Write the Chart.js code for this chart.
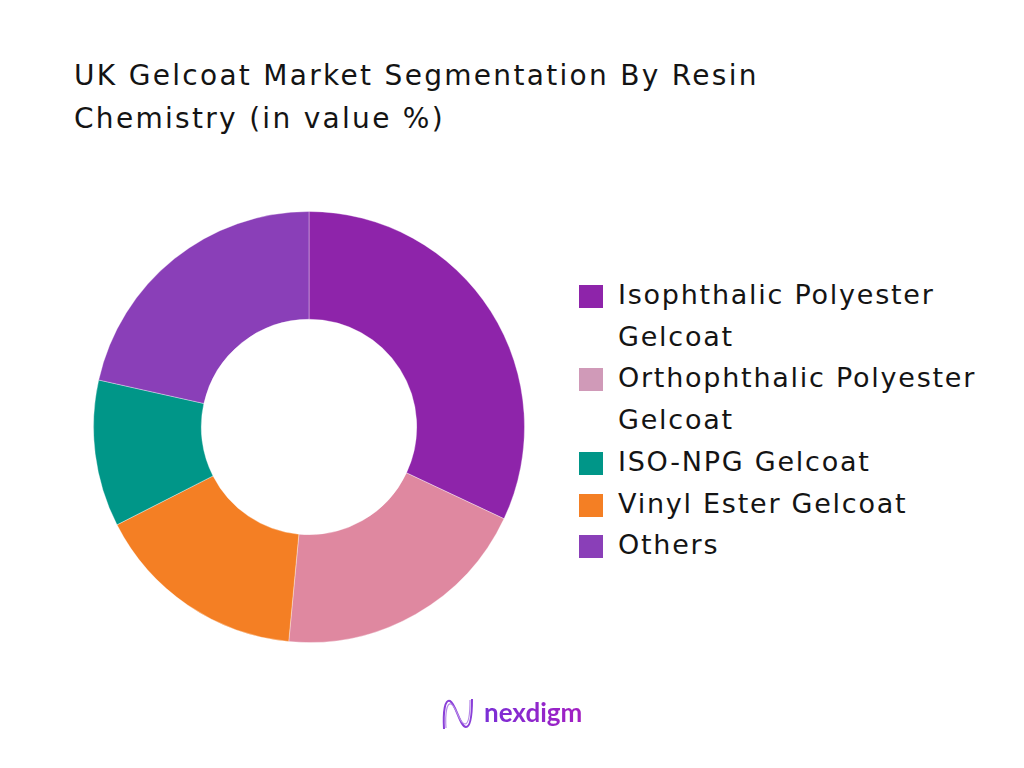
<!DOCTYPE html>
<html>
<head>
<meta charset="utf-8">
<script src="https://cdn.jsdelivr.net/npm/chart.js@4.4.0/dist/chart.umd.min.js"></script>
<style>
	html, body {
		margin: 0;
		padding: 0;
		background: #ffffff;
	}
	body {
		width: 1024px;
		height: 768px;
		position: relative;
		overflow: hidden;
		font-family: 'DejaVu Sans', sans-serif;
		color: #141414;
	}
	#title {
		position: absolute;
		left: 74px;
		top: 54px;
		font-size: 28px;
		line-height: 43px;
		letter-spacing: 2.3px;
		font-weight: 400;
	}
	#chart-wrap {
		position: absolute;
		left: 93px;
		top: 211px;
		width: 432px;
		height: 432px;
	}
	#legend {
		position: absolute;
		left: 579px;
		top: 274px;
		margin: 0;
		padding: 0;
		list-style: none;
		font-size: 27px;
		line-height: 41.7px;
		letter-spacing: 1.75px;
	}
	#legend li {
		position: relative;
		padding-left: 39px;
		width: 400px;
	}
	#legend .box {
		position: absolute;
		left: 0;
		top: 11px;
		width: 24px;
		height: 23px;
	}
	#logo {
		position: absolute;
		left: 441px;
		top: 697px;
		display: flex;
		align-items: center;
	}
	#logo span {
		font-family: Lato, sans-serif;
		font-weight: 700;
		font-size: 26px;
		margin-left: 9px;
		margin-top: -4px;
		background: linear-gradient(90deg, #7a2fd6, #a31fc2);
		-webkit-background-clip: text;
		background-clip: text;
		color: transparent;
	}
</style>
</head>
<body>
<div id="title">UK Gelcoat Market Segmentation By Resin<br>Chemistry (in value %)</div>
<div id="chart-wrap"><canvas id="donut" width="432" height="432"></canvas></div>
<ul id="legend"></ul>
<div id="logo">
	<svg width="34" height="34" viewBox="0 0 34 34" fill="none">
		<path d="M3 32 C2 14 4 2 9 4 C15 7 19 30 25 30 C30 30 31 16 31 2" stroke="#8a3fd8" stroke-width="2"/>
		<path d="M5 31 C4 16 6 5 10 7 C16 10 18 27 24 27 C28 27 29 14 29 3" stroke="#b78ae8" stroke-width="1.2"/>
	</svg>
	<span>nexdigm</span>
</div>
<script>
// ---------------- data ----------------
const segments = [
	'Isophthalic Polyester Gelcoat',
	'Orthophthalic Polyester Gelcoat',
	'Vinyl Ester Gelcoat',
	'ISO-NPG Gelcoat',
	'Others',
];
const shares = [32, 19.5, 16, 11, 21.5];
const sliceColors = ['#8e24aa', '#df88a0', '#f47f24', '#009688', '#8a3fb8'];
// legend shows its own order and a softer pink swatch for Orthophthalic
const legendOrder = [0, 1, 3, 2, 4];
const legendColors = ['#8e24aa', '#d09ab8', '#f47f24', '#009688', '#8a3fb8'];
const legendLines = [
	['Isophthalic Polyester', 'Gelcoat'],
	['Orthophthalic Polyester', 'Gelcoat'],
	['Vinyl Ester Gelcoat'],
	['ISO-NPG Gelcoat'],
	['Others'],
];

// ---------------- chart ----------------
const ctx = /** @type {HTMLCanvasElement} */ (document.getElementById('donut'));
new Chart(ctx, {
	type: 'doughnut',
	data: {
		labels: segments,
		datasets: [
			{
				data: shares,
				backgroundColor: sliceColors,
				borderWidth: 1,
				borderColor: 'rgba(255, 255, 255, 0.35)',
				hoverOffset: 0,
			},
		],
	},
	options: {
		responsive: false,
		animation: false,
		cutout: '50%',
		layout: { padding: 0 },
		plugins: {
			legend: { display: false },
			tooltip: { enabled: false },
		},
	},
});

// ---------------- legend ----------------
const legend = /** @type {HTMLElement} */ (document.getElementById('legend'));
legend.innerHTML = legendOrder
	.map(
		(i) => `
    <li>
      <span class="box" style="background:${legendColors[i]}"></span>
      ${legendLines[i].join('<br>')}
    </li>`
	)
	.join('');
</script>
</body>
</html>
